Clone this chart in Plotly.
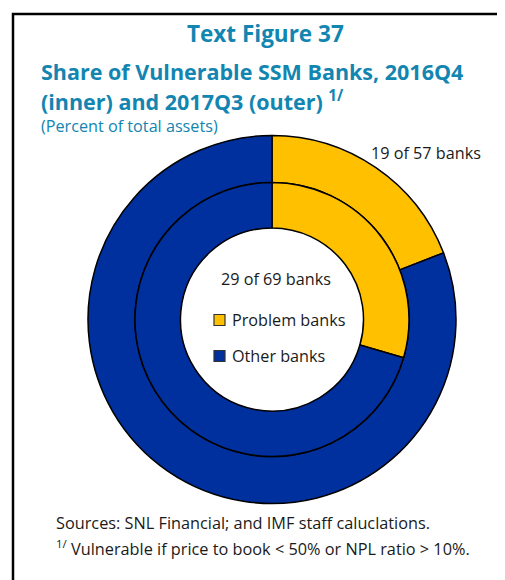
import plotly.graph_objects as go

# ---------------------------------------------------------------------------
# DATA (percent of total assets)
# ---------------------------------------------------------------------------
labels = ["Problem banks", "Other banks"]
share_2016q4 = [29.5, 70.5]   # inner ring
share_2017q3 = [19.1, 80.9]   # outer ring
inner_note = "29 of 69 banks"
outer_note = "19 of 57 banks"

TEAL = "#1285B1"
COLORS = ["#FFC000", "#00309E"]
OFF = 8                      # page body margin
W, H = 505 - OFF, 580 - OFF


def px_x(x):
    return (x - OFF) / W


def px_y(y):
    return 1 - (y - OFF) / H


fig = go.Figure()

# outer ring: 2017Q3
fig.add_trace(go.Pie(
    labels=labels, values=share_2017q3, hole=0.745,
    sort=False, direction="clockwise", rotation=0,
    marker=dict(colors=COLORS, line=dict(color="black", width=1.5)),
    textinfo="none", hoverinfo="label+percent", showlegend=False,
    domain=dict(x=[px_x(88), px_x(456)], y=[px_y(503.5), px_y(135.5)]),
))
# inner ring: 2016Q4
fig.add_trace(go.Pie(
    labels=labels, values=share_2016q4, hole=0.668,
    sort=False, direction="clockwise", rotation=0,
    marker=dict(colors=COLORS, line=dict(color="black", width=1.5)),
    textinfo="none", hoverinfo="label+percent", showlegend=False,
    domain=dict(x=[px_x(135), px_x(409)], y=[px_y(456.5), px_y(182.5)]),
))

font = "Open Sans, Noto Sans, sans-serif"
ann = []


def text(x, y, s, size, color="#1a1a1a", bold=False, xanchor="left"):
    if bold:
        s = "<b>" + s + "</b>"
    ann.append(dict(
        x=px_x(x), y=px_y(y), xref="paper", yref="paper", text=s,
        showarrow=False, xanchor=xanchor, yanchor="middle",
        font=dict(family=font, size=size, color=color),
    ))


text(265, 33, "Text Figure 37", 22.5, TEAL, True, "center")
text(39, 72, "Share of Vulnerable SSM Banks, 2016Q4", 21.5, TEAL, True)
text(39, 100, "(inner) and 2017Q3 (outer) <sup>1/</sup>", 21.5, TEAL, True)
text(39, 126, "(Percent of total assets)", 16.2, TEAL)

text(369, 153, outer_note, 16.2)
text(276, 279, inner_note, 16.2, xanchor="center")

# legend drawn in the hole
legend_rows = [(320, 0), (356, 1)]
shapes = []
for y, i in legend_rows:
    shapes.append(dict(
        type="rect", xref="paper", yref="paper",
        x0=px_x(214), x1=px_x(225), y0=px_y(y + 5.5), y1=px_y(y - 5.5),
        fillcolor=COLORS[i], line=dict(color="#333333", width=1.2),
    ))
    text(230, y, labels[i], 16.2)

text(54, 523, "Sources: SNL Financial; and IMF staff caluclations.", 16.3)
text(54, 548, "<sup>1/</sup> Vulnerable if price to book &lt; 50% or NPL ratio &gt; 10%.", 16.3)

# frame
shapes.append(dict(
    type="rect", xref="paper", yref="paper",
    x0=px_x(13), x1=1.05, y0=-0.05, y1=px_y(14),
    line=dict(color="black", width=2.5), fillcolor="rgba(0,0,0,0)",
))

fig.update_layout(
    width=W, height=H, autosize=False,
    margin=dict(l=0, r=0, t=0, b=0),
    paper_bgcolor="white", plot_bgcolor="white",
    annotations=ann, shapes=shapes,
    font=dict(family=font),
)

fig.write_html("out.html")
